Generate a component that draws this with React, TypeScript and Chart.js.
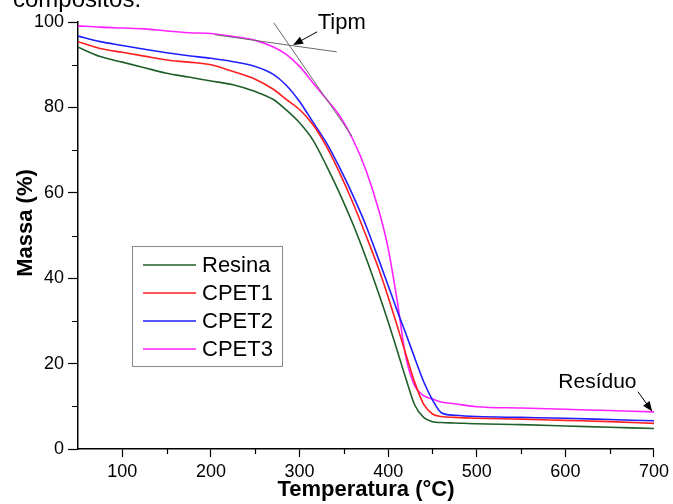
import React, { useEffect, useRef } from "react";
import { Chart, registerables } from "chart.js";

Chart.register(...registerables);

// ---- data ----
const temperatures = [50, 75, 100, 125, 150, 175, 200, 225, 250, 270, 285, 300, 315, 330, 345, 360, 375, 390, 400, 410, 420, 430, 440, 450, 460, 475, 500, 550, 600, 650, 700];
const resina = [94.1, 91.9, 90.6, 89.3, 88.0, 87.1, 86.2, 85.3, 83.7, 81.9, 79.4, 76.4, 72.4, 66.5, 60.0, 52.8, 44.8, 36.0, 29.8, 23.2, 16.5, 10.3, 7.4, 6.4, 6.2, 6.1, 5.9, 5.7, 5.4, 5.1, 4.8];
const cpet1 = [95.4, 93.8, 92.9, 92.0, 91.1, 90.6, 90.0, 88.4, 86.6, 84.3, 81.9, 79.5, 76.0, 71.0, 64.8, 57.8, 50.0, 41.8, 35.6, 29.0, 22.2, 15.6, 10.5, 8.2, 7.6, 7.4, 7.2, 7.0, 6.7, 6.4, 6.0];
const cpet2 = [96.7, 95.4, 94.5, 93.6, 92.8, 92.1, 91.5, 90.7, 89.6, 87.8, 85.2, 81.4, 76.6, 71.8, 66.0, 59.5, 52.3, 44.0, 38.3, 32.5, 27.0, 21.3, 15.8, 11.5, 8.5, 7.9, 7.6, 7.4, 7.2, 6.9, 6.6];
const cpet3 = [99.1, 98.8, 98.6, 98.4, 97.9, 97.5, 97.3, 96.6, 95.7, 94.2, 92.4, 89.6, 85.8, 82.0, 78.1, 72.6, 65.3, 55.5, 47.0, 35.0, 21.5, 14.8, 12.5, 11.7, 11.0, 10.6, 9.9, 9.6, 9.3, 9.0, 8.7];

const seriesLabels = ["Resina", "CPET1", "CPET2", "CPET3"];
const seriesColors = ["#1f5f2a", "#ff1f1f", "#1f1fff", "#ff22ff"];

const xMajorTicks = [100, 200, 300, 400, 500, 600, 700];
const xMinorTicks = [150, 250, 350, 450, 550, 650];
const yMajorTicks = [0, 20, 40, 60, 80, 100];
const yMinorTicks = [10, 30, 50, 70, 90];

// annotation anchors (data units: [temperature, mass])
const tangentFlat = [[204.6, 97.0], [342, 93.0]];
const tangentSteep = [[271, 99.8], [359, 73.3]];
const tipmArrow = [[319.8, 97.7], [292.7, 94.6]];
const tipmLabel = [320.5, 99.8];
const residuoArrow = [[682, 13.4], [698, 8.8]];
const residuoLabel = [592, 15.7];

const FONT = "'Liberation Sans', Arial, Helvetica, sans-serif";

function drawArrow(ctx: CanvasRenderingContext2D, x1: number, y1: number, x2: number, y2: number) {
  const ang = Math.atan2(y2 - y1, x2 - x1);
  const head = 10;
  const wid = 4;
  ctx.save();
  ctx.strokeStyle = "#000";
  ctx.fillStyle = "#000";
  ctx.lineWidth = 1;
  ctx.beginPath();
  ctx.moveTo(x1, y1);
  ctx.lineTo(x2 - Math.cos(ang) * head * 0.8, y2 - Math.sin(ang) * head * 0.8);
  ctx.stroke();
  ctx.beginPath();
  ctx.moveTo(x2, y2);
  ctx.lineTo(x2 - Math.cos(ang) * head - Math.sin(ang) * wid, y2 - Math.sin(ang) * head + Math.cos(ang) * wid);
  ctx.lineTo(x2 - Math.cos(ang) * head + Math.sin(ang) * wid, y2 - Math.sin(ang) * head - Math.cos(ang) * wid);
  ctx.closePath();
  ctx.fill();
  ctx.restore();
}

const decorPlugin = {
  id: "decor",
  afterDraw(chart: any) {
    const ctx: CanvasRenderingContext2D = chart.ctx;
    const xs = chart.scales.x;
    const ys = chart.scales.y;
    const area = chart.chartArea;
    const px = (v: number) => xs.getPixelForValue(v);
    const py = (v: number) => ys.getPixelForValue(v);

    ctx.save();
    // minor ticks
    ctx.strokeStyle = "#000";
    ctx.lineWidth = 1.2;
    ctx.beginPath();
    xMinorTicks.forEach((t) => {
      const x = Math.round(px(t)) + 0.5;
      ctx.moveTo(x, area.bottom);
      ctx.lineTo(x, area.bottom + 5);
    });
    yMinorTicks.forEach((t) => {
      const y = Math.round(py(t)) + 0.5;
      ctx.moveTo(area.left, y);
      ctx.lineTo(area.left - 6, y);
    });
    ctx.stroke();

    // y axis title
    ctx.save();
    ctx.translate(26, 223);
    ctx.rotate(-Math.PI / 2);
    ctx.font = `bold 22px ${FONT}`;
    ctx.fillStyle = "#000";
    ctx.textAlign = "center";
    ctx.textBaseline = "middle";
    ctx.fillText("Massa (%)", 0, 0);
    ctx.restore();

    // tangent lines
    ctx.strokeStyle = "#6a6a6a";
    ctx.lineWidth = 1;
    ctx.beginPath();
    ctx.moveTo(px(tangentFlat[0][0]), py(tangentFlat[0][1]));
    ctx.lineTo(px(tangentFlat[1][0]), py(tangentFlat[1][1]));
    ctx.moveTo(px(tangentSteep[0][0]), py(tangentSteep[0][1]));
    ctx.lineTo(px(tangentSteep[1][0]), py(tangentSteep[1][1]));
    ctx.stroke();

    // arrows
    drawArrow(ctx, px(tipmArrow[0][0]), py(tipmArrow[0][1]), px(tipmArrow[1][0]), py(tipmArrow[1][1]));
    drawArrow(ctx, px(residuoArrow[0][0]), py(residuoArrow[0][1]), px(residuoArrow[1][0]), py(residuoArrow[1][1]));

    // annotation text
    ctx.fillStyle = "#000";
    ctx.font = `22px ${FONT}`;
    ctx.textAlign = "left";
    ctx.textBaseline = "middle";
    ctx.fillText("Tipm", px(tipmLabel[0]), py(tipmLabel[1]));
    ctx.font = `21px ${FONT}`;
    ctx.fillText("Resíduo", px(residuoLabel[0]), py(residuoLabel[1]));

    // legend box
    const lx = 132.5, ly = 246.5, lw = 150, lh = 120;
    ctx.fillStyle = "#fff";
    ctx.fillRect(lx, ly, lw, lh);
    ctx.strokeStyle = "#8a8a8a";
    ctx.lineWidth = 1;
    ctx.strokeRect(lx, ly, lw, lh);
    chart.data.datasets.forEach((ds: any, i: number) => {
      const yy = 265 + i * 28;
      ctx.strokeStyle = ds.borderColor;
      ctx.lineWidth = 1.6;
      ctx.beginPath();
      ctx.moveTo(143, yy);
      ctx.lineTo(196, yy);
      ctx.stroke();
      ctx.fillStyle = "#000";
      ctx.font = `22px ${FONT}`;
      ctx.textBaseline = "middle";
      ctx.fillText(ds.label, 202, yy + 1);
    });

    // caption fragment at top (cut off)
    ctx.fillStyle = "#000";
    ctx.font = `24px ${FONT}`;
    ctx.textBaseline = "alphabetic";
    ctx.fillText("compósitos.", 13, 7);
    ctx.restore();
  },
};

export default function App() {
  const ref = useRef<HTMLCanvasElement | null>(null);

  useEffect(() => {
    if (!ref.current) return;
    const datasets = [resina, cpet1, cpet2, cpet3].map((arr, i) => ({
      label: seriesLabels[i],
      data: temperatures.map((t, j) => ({ x: t, y: arr[j] })),
      borderColor: seriesColors[i],
      backgroundColor: seriesColors[i],
      borderWidth: 1.6,
      pointRadius: 0,
      cubicInterpolationMode: "monotone" as const,
      fill: false,
    }));
    const chart = new Chart(ref.current, {
      type: "line",
      data: { datasets },
      options: {
        animation: false,
        responsive: false,
        devicePixelRatio: 1,
        layout: { padding: { left: 0, top: 22, right: 19, bottom: 0 } },
        plugins: { legend: { display: false }, tooltip: { enabled: false }, title: { display: false } },
        scales: {
          x: {
            type: "linear",
            min: 50,
            max: 700,
            afterBuildTicks: (scale: any) => {
              scale.ticks = xMajorTicks.map((v) => ({ value: v }));
            },
            afterFit: (scale: any) => {
              scale.height = 55;
            },
            grid: { drawOnChartArea: false, drawTicks: true, tickLength: 8, color: "#000", tickColor: "#000", tickWidth: 1.2 },
            border: { display: true, color: "#000", width: 1.5 },
            ticks: { color: "#000", font: { family: FONT, size: 18 }, padding: 4, maxRotation: 0, autoSkip: false },
            title: { display: true, text: "Temperatura (°C)", color: "#000", font: { family: FONT, size: 22, weight: "bold" }, padding: { top: 0, bottom: 1 } },
          },
          y: {
            type: "linear",
            min: 0,
            max: 100,
            afterBuildTicks: (scale: any) => {
              scale.ticks = yMajorTicks.map((v) => ({ value: v }));
            },
            afterFit: (scale: any) => {
              scale.width = 78;
            },
            grid: { drawOnChartArea: false, drawTicks: true, tickLength: 10, color: "#000", tickColor: "#000", tickWidth: 1.2 },
            border: { display: true, color: "#000", width: 1.5 },
            ticks: { color: "#000", font: { family: FONT, size: 18 }, padding: 4 },
          },
        },
      },
      plugins: [decorPlugin],
    });
    return () => chart.destroy();
  }, []);

  return (
    <div style={{ position: "absolute", left: 0, top: 0, width: 673, height: 504, background: "#fff" }}>
      <canvas ref={ref} width={673} height={504} style={{ width: 673, height: 504, display: "block" }} />
    </div>
  );
}
